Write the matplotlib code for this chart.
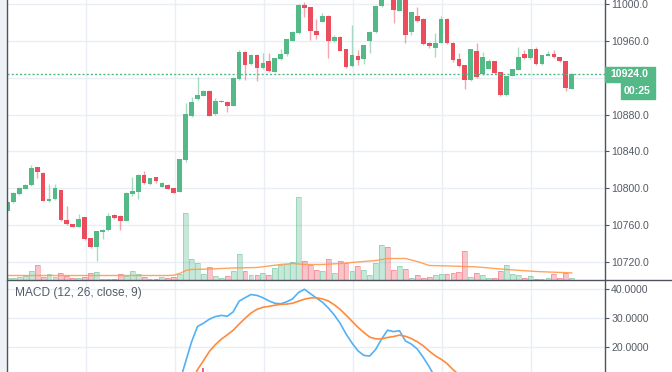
import matplotlib.pyplot as plt
from matplotlib.lines import Line2D
from matplotlib.patches import Rectangle
import numpy as np

plt.rcParams['font.family'] = ['Liberation Sans', 'DejaVu Sans']

# candle data, one entry per bar
opens = [10775.7, 10784.8, 10793.8, 10799.6, 10803.6, 10823.1, 10816.6, 10786.5, 10788.4, 10798.1,
         10765.9, 10760.9, 10758.3, 10768.5, 10745.7, 10735.9, 10752.2, 10754.7, 10771.3, 10769.9,
         10764.8, 10794.1, 10796.3, 10814.4, 10804.3, 10811.9, 10801.7, 10803.6, 10800.0, 10796.3,
         10830.7, 10878.4, 10896.6, 10900.5, 10905.9, 10880.3, 10894.0, 10893.6, 10889.6, 10918.6,
         10948.2, 10934.9, 10944.7, 10930.5, 10938.1, 10926.5, 10940.0, 10945.7, 10960.2, 10968.2,
         10999.2, 10996.4, 10971.0, 10980.8, 10987.3, 10959.5, 10964.5, 10950.8, 10932.7, 10943.6,
         10940.0, 10959.5, 10969.3, 10997.8, 11010.0, 11007.0, 10992.7, 11007.0, 10969.3, 10987.3,
         10983.7, 10958.0, 10952.2, 10958.0, 10984.0, 10958.0, 10940.0, 10933.5, 10917.5, 10949.3,
         10924.0, 10929.5, 10937.8, 10925.9, 10901.2, 10921.9, 10928.4, 10945.7, 10941.1, 10950.8,
         10934.9, 10943.9, 10945.4, 10942.2, 10937.8, 10908.1]
closes = [10785.4, 10794.6, 10800.3, 10803.6, 10822.0, 10817.7, 10786.5, 10788.7, 10800.0, 10765.3,
          10760.9, 10758.3, 10766.3, 10744.6, 10735.9, 10753.3, 10754.7, 10770.2, 10767.4, 10764.5,
          10795.2, 10797.1, 10814.4, 10805.4, 10810.8, 10808.2, 10805.7, 10799.6, 10795.2, 10831.4,
          10880.3, 10893.6, 10901.2, 10905.9, 10878.8, 10894.7, 10894.7, 10889.3, 10920.0, 10947.6,
          10933.8, 10944.7, 10930.2, 10935.6, 10927.3, 10941.1, 10945.4, 10961.7, 10969.9, 10999.2,
          10996.0, 10971.0, 10966.7, 10986.9, 10959.5, 10964.5, 10949.3, 10931.6, 10944.7, 10939.2,
          10955.2, 10969.9, 10997.8, 11008.0, 11007.0, 10993.5, 11007.0, 10966.4, 10991.0, 10981.2,
          10956.6, 10954.4, 10958.0, 10984.0, 10957.3, 10939.2, 10932.7, 10917.5, 10950.8, 10920.4,
          10942.2, 10937.8, 10925.1, 10901.2, 10921.5, 10929.1, 10942.2, 10941.1, 10950.8, 10934.9,
          10944.3, 10945.7, 10942.2, 10938.1, 10908.8, 10924.0]
highs = [10787.0, 10795.5, 10801.0, 10804.5, 10825.3, 10823.5, 10817.5, 10804.7, 10805.0, 10798.5,
         10781.1, 10761.5, 10771.8, 10769.0, 10746.5, 10754.0, 10755.5, 10772.8, 10772.0, 10770.5,
         10795.8, 10812.6, 10815.0, 10818.4, 10811.5, 10812.5, 10806.5, 10804.2, 10800.5, 10832.0,
         10892.6, 10899.4, 10920.4, 10906.5, 10906.5, 10898.3, 10895.5, 10894.2, 10920.6, 10950.1,
         10948.8, 10945.3, 10945.3, 10946.5, 10946.5, 10941.7, 10951.2, 10962.3, 10970.5, 10999.8,
         11002.0, 10997.0, 10983.7, 10990.6, 10988.0, 10966.0, 10965.0, 10951.4, 10977.2, 10950.1,
         10955.8, 10970.5, 10998.4, 11010.0, 11016.0, 11010.0, 11010.0, 11010.0, 10991.6, 10997.1,
         10984.3, 10958.6, 10968.2, 10987.0, 10984.6, 10958.6, 10946.5, 10934.1, 10951.4, 10957.3,
         10947.6, 10939.9, 10938.4, 10926.5, 10922.1, 10929.7, 10953.0, 10950.1, 10951.4, 10953.7,
         10944.9, 10948.5, 10950.1, 10942.8, 10938.4, 10924.6]
lows = [10774.0, 10784.2, 10793.2, 10799.0, 10803.0, 10811.2, 10786.0, 10785.5, 10787.8, 10764.7,
        10760.3, 10757.7, 10757.7, 10744.0, 10735.3, 10721.1, 10744.9, 10754.1, 10766.8, 10754.7,
        10764.2, 10792.0, 10788.0, 10804.8, 10803.7, 10805.4, 10801.1, 10799.0, 10794.6, 10795.7,
        10828.0, 10877.8, 10896.0, 10899.9, 10878.2, 10879.7, 10893.4, 10883.2, 10889.0, 10918.0,
        10917.5, 10934.3, 10916.8, 10929.9, 10926.7, 10925.9, 10939.4, 10943.0, 10959.6, 10967.6,
        10985.6, 10960.9, 10961.7, 10980.2, 10941.1, 10958.9, 10948.7, 10931.0, 10932.1, 10934.0,
        10935.0, 10946.5, 10968.7, 10997.2, 11005.0, 10979.7, 10992.1, 10957.3, 10966.4, 10980.6,
        10956.0, 10952.2, 10942.8, 10957.4, 10956.7, 10936.7, 10932.1, 10907.4, 10916.9, 10919.8,
        10923.4, 10928.9, 10924.5, 10900.6, 10900.6, 10921.3, 10927.8, 10940.5, 10940.5, 10934.3,
        10934.3, 10943.3, 10941.6, 10937.5, 10905.9, 10907.5]

# volume (arbitrary units) and its moving average line
volume = [20, 20, 25, 40, 90, 150, 25, 60, 25, 70, 40, 20, 20, 30, 70, 80, 10, 10, 10, 60,
          40, 90, 60, 30, 10, 10, 30, 20, 30, 60, 670, 210, 165, 55, 125, 35, 20, 40, 85, 260,
          90, 50, 50, 65, 45, 120, 150, 160, 175, 825, 185, 145, 100, 90, 210, 70, 190, 170, 90, 140,
          100, 45, 165, 350, 330, 100, 135, 110, 20, 50, 20, 30, 50, 55, 55, 65, 75, 290, 30, 70,
          50, 20, 20, 90, 150, 55, 50, 20, 40, 10, 10, 20, 60, 20, 70, 20]
vol_ma_idx = [0, 10, 20, 27, 28, 29, 30, 31, 34, 38, 42, 46, 48, 50, 53, 56, 59, 62, 64, 67,
              69, 71, 74, 79, 84, 89, 95]
vol_ma = [40, 40, 40, 40, 43, 60, 90, 100, 105, 115, 120, 150, 160, 150, 150, 160, 175, 190, 210, 210,
          180, 140, 136, 126, 100, 80, 66]

# MACD (12, 26, close, 9)
macd_idx = list(range(28, 73))
macd = [3.0, 8.0, 15.0, 21.8, 27.1, 28.2, 29.6, 30.5, 30.9, 30.6, 32.1, 35.8, 37.0, 38.1, 37.8,
        37.0, 35.9, 35.1, 34.9, 35.6, 36.6, 38.8, 39.9, 38.4, 36.9, 35.5, 33.5, 31.1, 28.2, 24.5,
        21.4, 18.7, 17.1, 16.9, 19.2, 22.8, 25.8, 25.3, 25.6, 22.1, 21.0, 19.3, 16.4, 13.2, 9.5]
signal_idx = list(range(30, 77))
signal = [4.0, 8.0, 12.2, 15.3, 18.5, 20.8, 22.7, 24.2, 25.8, 27.9, 29.9, 31.7, 33.0, 33.7, 34.0,
          34.4, 34.7, 34.8, 35.1, 35.8, 36.5, 36.9, 37.0, 36.6, 35.9, 34.6, 33.0, 31.0, 28.9, 26.8,
          25.0, 23.4, 22.8, 22.8, 23.3, 23.6, 24.1, 23.7, 22.9, 21.8, 20.4, 18.6, 17.0, 15.8, 14.3,
          12.2, 10.5]
hist_idx = [32, 33, 34]
hist = [11.0, 12.6, 11.0]

price_ticks = [10720, 10760, 10800, 10840, 10880, 10920, 10960, 11000]
macd_ticks = [20, 30, 40]
grid_x = [13.2, 28.2, 43.2, 58.2, 73.2, 88.2]
last_price = 10924.0

GREEN = '#53b987'
RED = '#eb4d5c'
GRID = '#e8eef3'
TEXT = '#555b66'
AXIS = '#50535e'

W, H = 672, 372


def rect(x0, y0, x1, y1):
    return [x0 / W, 1 - y1 / H, (x1 - x0) / W, (y1 - y0) / H]


fig = plt.figure(figsize=(W / 100, H / 100), dpi=100)
fig.patch.set_facecolor('white')
fig.add_artist(Rectangle((0, 0), 6.5 / W, 1, transform=fig.transFigure, color='#eef1f5', zorder=0))

ax = fig.add_axes(rect(7, 0, 605, 279.5))
mx = fig.add_axes(rect(7, 279.5, 605, 372))

n = len(opens)
x = np.arange(n)
o = np.array(opens)
c = np.array(closes)
up = c >= o
cols = np.where(up, GREEN, RED)

# volume overlay
vx = ax.twinx()
vx.bar(x, volume, width=0.82, color=cols, alpha=0.32, zorder=1)
vx.bar(x, volume, width=0.82, facecolor='none', edgecolor=cols, alpha=0.45, linewidth=0.6, zorder=1)
vx.plot(vol_ma_idx, vol_ma, color='#ff9a4d', lw=1.0, alpha=0.9, zorder=2)
vx.set_ylim(0, 2795)
vx.axis('off')

# candles
for i in range(n):
    ax.vlines(x[i], lows[i], highs[i], color=cols[i], alpha=0.5, lw=1.0, zorder=3)
bodies = np.maximum(np.abs(c - o), 0.6)
ax.bar(x, bodies, bottom=np.minimum(o, c), width=0.8, color=cols, zorder=4)

ax.axhline(last_price, color=GREEN, lw=1.0, ls=(0, (1.5, 1.5)), zorder=5)

ax.set_xlim(-0.08, 100.6)
ax.set_ylim(10701.0, 11004.3)
ax.set_yticks(price_ticks)
ax.set_yticklabels(['%.1f' % t for t in price_ticks])
ax.set_xticks(grid_x)
ax.grid(True, color=GRID, lw=1.0)
ax.set_axisbelow(True)

# MACD panel
mx.plot(macd_idx, macd, color='#52b1f5', lw=1.2, zorder=3)
mx.plot(signal_idx, signal, color='#ff8a3d', lw=1.2, zorder=3)
mx.vlines(hist_idx, 0, hist, color='#f23d83', lw=1.2, zorder=2)
mx.set_xlim(-0.08, 100.6)
mx.set_ylim(11.38, 43.28)
mx.set_yticks(macd_ticks)
mx.set_yticklabels(['%.4f' % t for t in macd_ticks])
mx.set_xticks(grid_x)
mx.grid(True, color=GRID, lw=1.0)
mx.set_axisbelow(True)
mx.text(0.0134, 0.85, 'MACD (12, 26, close, 9)', transform=mx.transAxes,
        fontsize=8.6, color=TEXT, va='center', ha='left')

for a in (ax, mx):
    a.set_facecolor('white')
    a.yaxis.tick_right()
    a.tick_params(axis='y', length=3, width=0.8, color=AXIS, pad=1.5, labelsize=7.6, labelcolor=TEXT)
    a.tick_params(axis='x', length=0, labelbottom=False)
    a.spines['top'].set_visible(False)
    a.spines['left'].set_visible(False)
    a.spines['bottom'].set_visible(False)
    a.spines['right'].set_color(AXIS)
    a.spines['right'].set_linewidth(1.0)

# hide the 10920 label that sits under the price box
ax.get_yticklabels()[price_ticks.index(10920)].set_visible(False)

# panel separator and left border
fig.add_artist(Line2D([7 / W, 1], [1 - 279.5 / H] * 2, color=AXIS, lw=1.0, transform=fig.transFigure))
fig.add_artist(Line2D([6.8 / W] * 2, [0, 1], color=AXIS, lw=1.0, transform=fig.transFigure))

# last price box and countdown
fig.add_artist(Rectangle((605 / W, 1 - 81.7 / H), 50 / W, 15 / H, transform=fig.transFigure,
                         color=GREEN, zorder=6))
fig.text(610 / W, 1 - 74.2 / H, '%.1f' % last_price, color='white', fontsize=7.6,
         fontweight='bold', va='center', ha='left', zorder=7)
fig.add_artist(Rectangle((620.7 / W, 1 - 99 / H), 34.3 / W, 15.7 / H, transform=fig.transFigure,
                         color=GREEN, zorder=6))
fig.text(624 / W, 1 - 91.2 / H, '00:25', color='white', fontsize=7.6,
         fontweight='bold', va='center', ha='left', zorder=7)

fig.savefig('out.png', dpi=100)
